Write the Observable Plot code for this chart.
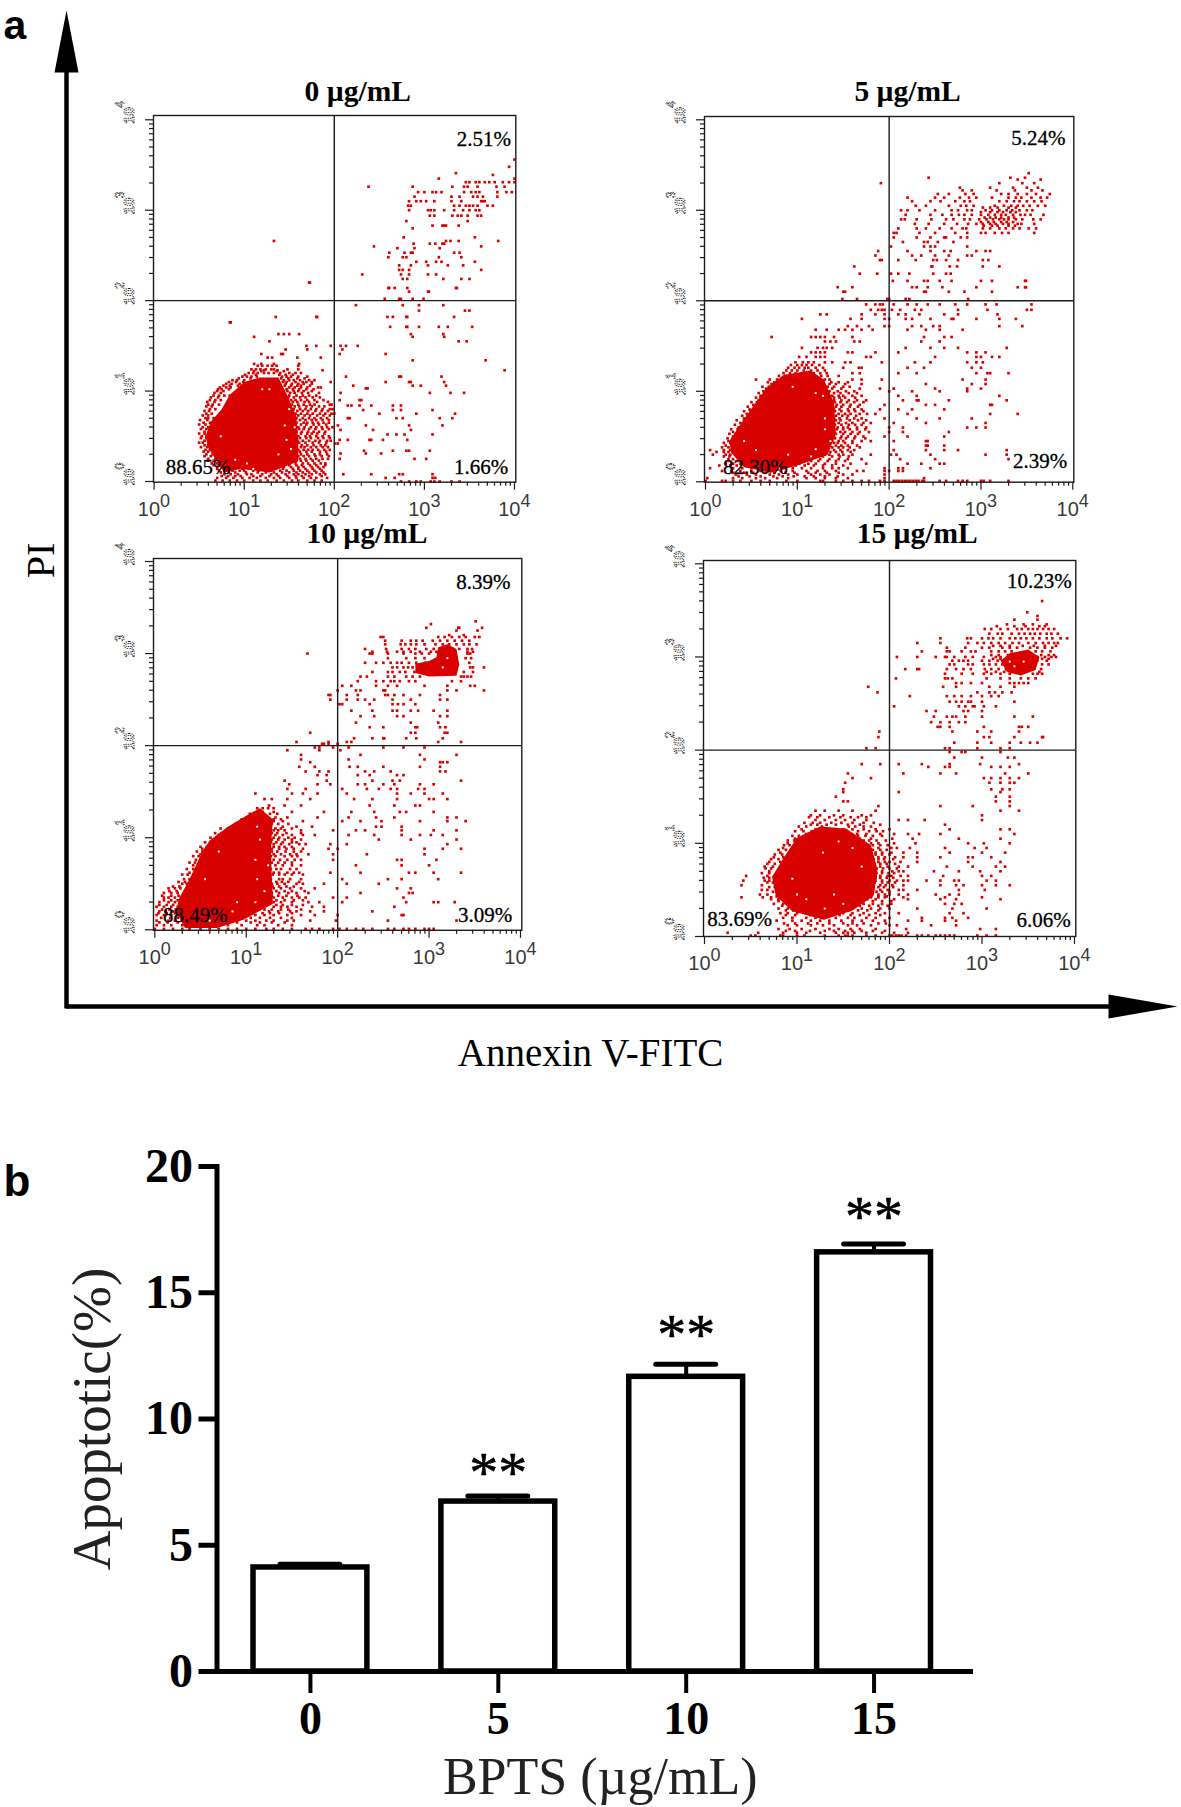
<!DOCTYPE html>
<html><head><meta charset="utf-8">
<script src="https://cdn.jsdelivr.net/npm/d3@7"></script>
<script src="https://cdn.jsdelivr.net/npm/@observablehq/plot@0.6"></script>
<style>html,body{margin:0;background:#fff}#page{position:relative;width:1181px;height:1807px;overflow:hidden}#page svg{position:absolute;overflow:visible;background:transparent}</style>
</head><body><div id="page"></div>
<script>
// FLOW CYTOMETRY VALUES: log10(Annexin V), log10(PI). Rows are [log10 PI, log10 Annexin ...].
const dose0Core=[[.57,.5],[.63,.66],[.75,.8],[.84,.96],[1,1.1],[1.17,1.15],[1.38,1.15],[1.47,.97],[1.58,.72],[1.6,.45],[1.6,.22],[1.28,.1],[.96,.14],[.78,.1],[.66,.28],[.6,.38]];
const dose5Core=[[.26,.45],[.37,.62],[.51,.82],[.66,1.03],[.85,1.18],[1.14,1.23],[1.29,1.13],[1.4,.87],[1.42,.53],[1.33,.3],[1,.18],[.71,.1],[.42,.16],[.28,.32]];
const dose10Core=[[.27,.35],[.38,.55],[.52,.85],[.6,.97],[.8,1.12],[1,1.24],[1.15,1.32],[1.29,1.2],[1.27,.86],[1.29,.28],[.97,.11],[.68,.02],[.33,.02],[.23,.2]];
const dose15Core=[[.73,.64],[.86,.85],[1,1.06],[1.25,1.18],[1.53,1.16],[1.8,.98],[1.87,.72],[1.83,.44],[1.6,.28],[1.29,.18],[.95,.27],[.77,.44]];
const dose10Upper=[[2.85,2.79],[2.85,2.89],[3,2.92],[3.08,2.96],[3.1,3.07],[3.2,3.1],[3.3,3.05],[3.33,2.88],[3.3,2.76],[3,2.75]];
const dose15Upper=[[3.2,2.96],[3.3,3.04],[3.5,3.08],[3.62,3],[3.58,2.86],[3.42,2.8],[3.27,2.84]];
const dose0Holes=[[1.2,1.02],[1.28,1.02],[1.5,.8],[1.45,.62],[1.47,.46],[1.38,.3],[1.03,.2],[.9,.24],[1.52,.36],[.74,.5],[1.56,.6],[1.1,.14]];
const dose5Holes=[[1.2,.98],[.95,1.05],[1.3,.7],[1.3,.58],[1.2,.36],[1.15,.28],[.9,.3],[.42,.45],[.55,.35],[1.28,.95],[.8,.15],[1.36,.45]];
const dose10Holes=[[1.12,1.12],[1.15,.98],[1.1,.76],[1.12,.55],[1.1,.3],[.85,.2],[.55,.55],[.7,.85],[.9,.3],[1.2,.42],[1.24,.7],[.6,.1],[3.15,2.85],[3.2,2.95]];
const dose15Holes=[[1.28,.9],[1.45,1.02],[1.6,.95],[1.7,.75],[1.1,.4],[1,.45],[1.5,.35],[1.3,.3],[.95,.62],[1.4,.45],[3.35,2.9],[3.45,2.95],[3.3,2.95]];
const dose0Rows=[
[3.56,4],[3.48,3.94],[3.41,3.35],[3.39,3.76],[3.35,4,3.16],[3.31,3.46,3.5,3.57,3.61,3.67,3.72,3.78,3.87,3.94,4],[3.26,3.31,3.44,3.48,3.59,3.8,3.89,2.38,2.87],[3.2,2.93,3,3.09,3.13,3.19,3.44,3.52,3.57,3.61,3.81,3.91,3.97],[3.15,2.89,3.3,3.39,3.54,3.59,3.65,3.81],[3.1,2.83,2.91,2.96,3.02,3.11,3.3,3.41,3.63,3.65,3.67],[3.05,2.82,2.85,3.33,3.39,3.46,3.5,3.54,3.59,3.7,3.76],[3,2.83,3.04,3.07,3.11,3.22,3.33,3.43,3.5,3.57,3.61],[2.94,3.06,3.11,3.31,3.37,3.41,3.48,3.59,3.63],[2.88,2.8,3.48],[2.83,3.09,3.2,3.22,3.24,3.38],[2.8,2.87],[2.7,2.77,3.56],[2.66,1.33,3.29,3.24,3.38,3.82],[2.63,2.88,3.06,3.12,3.2,3.22],[2.6,2.44,3.63],[2.58,2.7,2.89,3.17],[2.53,2.61,2.78,2.85,2.87,3.33,3.39],[2.48,2.6,2.76,2.8,3.16,3.41],[2.43,2.91,3.02,3.13,3.19,3.56],[2.39,2.72,2.85,3.04,3.26,3.43],[2.34,2.72,2.76,2.83,3.63],[2.29,2.31,2.74,2.83,3.04,3.13],[2.24,2.76,2.81,3.21,3.41,3.5],[2.2,1.72,1.73],[2.14,2.6,2.61,2.67,2.81,3.35,3.36],[2.1,2.83,3.04,3.05],[2.02,2.56,2.72,2.74,2.87,2.99],[1.95,2.24,2.76,2.94,3.21],[1.89,2.94,3.45,3.5],[1.82,1.35,1.8,1.81,2.59,2.65,2.8,2.81,3.33],[1.76,.84,.85],[1.71,2.62,2.8,2.81,2.94,3.16,3.26,3.53],[1.63,1.38,1.44,1.5,1.61,2.85,3.21],[1.6,1.11,2.87,3.22],[1.55,1.28,3.38,3.47],[1.5,1.69,1.8,1.96,2.07,2.13,2.26],[1.46,1.46,1.7,2.09],[1.41,1.19,1.41,1.43,2.06,2.57],[1.37,1.26,1.31,1.59,1.85],[1.34,2.87,3.68],[1.3,1.11,1.19,1.33,1.61],[1.23,3.89,1.22,1.37,1.87],[1.16,2.13,2.72,2.74,3.19],[1.1,1.96,2.57,2.83,2.85,3.22],[1.06,2.21,2.87,2.96,3.24],[1.03,2.35,2.37],[.98,3.06,3.29,3.44,2.07],[.9,2.06,2.28,2.3],[.84,2.15,2.19,2.28,2.41,2.65,2.74],[.79,2.65,2.74,3.09,2.32],[.75,2.5,2.91,3.34,2],[.7,2.15,2.17,2.69,2.76,3.17,3.31],[.62,2.04,2.35,2.83,3.2],[.57,2.07,2.43,2.85],[.52,2.59,2.69,2.78,3.09],[.46,2.06,2.15,2.39,2.41,2.54,2.81],[.42,2.04,2.01],[.34,2.33,2.65,2.8,2.83,3.06],[.31,2.35,2.52,2.07],[.25,2.06,2.89,3.02],[.08,2.41,2.72,2.76,3.09,2.1],[.04,2.57,2.67,3.09,3.12],[0,2.74,2.83,2.91,2.96,3.07,3.11,3.17,3.3,3.39],
[1.28,1.15,1.2,1.26,1.31,1.36,1.6],[1.24,1.08,1.13,1.18,1.24,1.3,1.33,1.48,1.6],[1.2,1.05,1.1,1.15,1.22,1.27,1.33,1.4,1.5,1.57,1.63],[1.16,.98,1.03,1.08,1.14,1.42,1.47,1.52,1.6,1.7],[1.12,.87,.92,1,1.44,1.5,1.55,1.62,1.72,1.78],[1.08,.8,.86,.95,1.46,1.53,1.6,1.66,1.75],[1.04,.73,.8,.85,1.5,1.56,1.63,1.7,1.82,1.85],[1,.7,.77,1.48,1.55,1.6,1.66,1.75],[.95,.66,.72,.78,.84,1.5,1.58,1.65,1.72,1.8],[.9,.62,.68,.74,1.52,1.57,1.63,1.7,1.78,1.88],[.85,.6,.65,.72,1.53,1.6,1.66,1.73,1.78,1.95,1.97],[.8,.62,.68,1.55,1.62,1.68,1.74,1.8,1.87,1.95,1.98],[.75,.58,.64,1.57,1.63,1.7,1.76,1.84,1.9,1.97],[.7,.57,.6,.66,1.58,1.65,1.72,1.78,1.85,1.92],[.65,.55,.62,1.58,1.66,1.7,1.76,1.82,1.88,1.94],[.6,.54,.6,1.6,1.67,1.74,1.8,1.86,1.92,1.98],[.55,.56,.61,1.58,1.64,1.71,1.77,1.83,1.9],[.5,.53,.58,1.6,1.68,1.73,1.8,1.87,1.94],[.45,.56,.61,1.59,1.65,1.72,1.79,1.84,1.92,1.96],[.4,.56,.6,1.58,1.64,1.7,1.77,1.85,1.9],[.35,.57,.62,1.6,1.66,1.71,1.76,1.82,1.89,1.95],[.3,.58,.65,1.58,1.63,1.7,1.78,1.84,1.92],[.25,.6,.68,1.57,1.62,1.68,1.74,1.8,1.87,1.93],[.2,.64,.7,.76,1.3,1.4,1.5,1.57,1.65,1.71,1.78,1.85,1.9],[.16,.7,.75,.85,.9,1,1.06,1.13,1.2,1.32,1.38,1.44,1.52,1.6,1.66,1.75,1.82,1.88],[.12,.72,.8,.87,.95,1,1.1,1.16,1.25,1.3,1.4,1.47,1.55,1.62,1.7,1.78,1.86],[.08,.78,.85,.93,1.03,1.08,1.2,1.3,1.36,1.46,1.55,1.6,1.68,1.75,1.84,1.9],[.04,.7,.8,.88,.98,1.06,1.14,1.24,1.33,1.4,1.5,1.58,1.66,1.74,1.8,1.92],[.01,.68,.76,.84,.92,1,1.1,1.18,1.26,1.36,1.44,1.53,1.6,1.7,1.78,1.86],
[1.22,1.11,1.19,1.36,1.44],[1.18,1.01,1.13,1.39,1.46,1.54],[1.14,.94,1.07,1.41,1.49,1.59,1.67],[1.1,.83,.91,.99,1.43,1.47,1.57,1.65,1.69,1.75],[1.06,.77,.84,.93,1.45,1.52,1.59,1.63,1.73],[1.02,.71,.75,.83,1.47,1.54,1.61,1.69,1.77],[.98,.67,.74,1.51,1.56,1.64,1.71,1.83],[.93,.63,.71,1.49,1.55,1.62,1.68,1.76,1.84],[.88,.59,.67,1.54,1.59,1.67,1.72,1.81,1.93],[.83,.58,.64,1.56,1.61,1.69,1.75,1.83,1.89],[.78,.56,.61,1.59,1.65,1.71,1.79,1.86,1.93],[.73,.54,.6,1.55,1.6,1.67,1.73,1.81,1.88,1.95],[.68,.51,.59,1.56,1.62,1.68,1.75,1.8,1.87,1.94],[.63,.5,.57,1.57,1.63,1.69,1.77,1.83,1.91],[.58,.52,.58,1.55,1.61,1.66,1.72,1.79,1.87,1.94],[.53,.5,.56,1.56,1.63,1.7,1.75,1.81,1.89],[.48,.52,.58,1.57,1.62,1.69,1.74,1.82,1.88,1.95],[.43,.5,.54,1.56,1.61,1.68,1.76,1.83,1.91],[.38,.52,.59,1.57,1.63,1.67,1.74,1.8,1.87,1.93],[.33,.55,.6,1.56,1.62,1.69,1.75,1.84,1.91],[.28,.56,.63,1.55,1.6,1.66,1.72,1.79,1.86,1.94],[.23,.6,.66,.73,1.35,1.47,1.55,1.63,1.69,1.76,1.83],[.18,.66,.72,.82,.88,.97,1.08,1.16,1.28,1.42,1.5,1.58,1.64,1.73,1.8,1.9],[.14,.7,.78,.9,.98,1.05,1.12,1.22,1.35,1.43,1.54,1.6,1.68,1.76,1.84],[.1,.74,.83,.9,1.02,1.15,1.24,1.33,1.42,1.5,1.58,1.65,1.72,1.8,1.88],[.06,.75,.82,.9,.96,1.1,1.18,1.28,1.38,1.48,1.57,1.64,1.72,1.86]];
const dose5Rows=[
[3.41,3.52],[3.36,2.43,3.32,3.48],[3.34,3.65,3.4],[3.3,1.91,3.2,3.45,3.58],[3.25,2.77,3.1,3.35,3.5,3.62],[3.22,2.8,2.9,3.17,3.37,3.55,3.67],[3.18,2.53,2.65,2.83,2.92,3.22,3.3,3.4,3.5,3.6,3.75],[3.14,2.2,2.5,2.6,2.77,2.87,2.95,3.12,3.3,3.38,3.44,3.55,3.65,3.72],[3.1,2.25,2.45,2.56,2.72,2.82,2.88,3.2,3.28,3.36,3.42,3.5,3.58,3.66],[3.05,2.29,2.4,2.65,2.78,2.84,2.92,3.15,3.25,3.33,3.4,3.46,3.53,3.62,3.7],[3,2.13,2.2,2.33,2.5,2.68,2.75,2.85,2.9,3.05,3.12,3.2,3.28,3.34,3.42,3.5,3.56],[2.95,2.18,2.45,2.58,2.68,2.76,2.82,2.9,3,3.08,3.15,3.22,3.27,3.35,3.43,3.48,3.54,3.68],[2.9,2.13,2.17,2.3,2.46,2.62,2.7,2.82,2.88,2.98,3.06,3.13,3.2,3.25,3.3,3.38,3.45,3.57,3.65],[2.85,2.28,2.43,2.6,2.74,2.86,2.95,3.02,3.1,3.16,3.24,3.3,3.4,3.44,3.58],[2.8,2.1,2.3,2.4,2.55,2.68,2.8,2.84,3.02,3.1,3.2,3.27,3.35,3.42,3.52,3.6],[2.75,2.05,2.08,2.33,2.5,2.72,2.85,3.05,3.15,3,3.23,3.3,3.58],[2.7,2.05,2.3,2.45,2.6,2.62,2.78,2.85],[2.65,2.15,2.38,2.42,2.53,2.7],[2.6,2.02,2.38,2.45,2.5,2.85],[2.55,1.88,2.2,2.45,2.6,2.67,2.95,3.05,3.1],[2.5,1.85,2.25,2.35,2.5,2.65,2.85,2.9],[2.45,1.9,1.92,2.1,2.29,2.48,2.52,2.62,2.75,3.02,3.08],[2.38,1.62,2.46,2.47,2.66,2.74,3.02,3.2],[2.3,1.68,1.87,2.02,2.1,2.22,2.48,2.62,2.67],[2.22,2.04,2.2,2.38,2.42,2.55,2.68,3,3.12,3.48,3.49],[2.15,1.44,1.6,2.25,2.3,2.42,2.58,2.95,3.4,3.48,3.49],[2.1,1.5,1.52,2.38,2.4,2.65,2.82,3.12],[2.02,1.49,1.65,1.98,2,2.18,2.22,2.86],[1.96,1.75,1.85,1.9,1.93,2.05,2.2,2.3,2.42,2.55,2.72,2.85,3.05,3.17,3.55],[1.9,1.8,1.88,1.92,1.95,2.03,2.12,2.28,2.35,2.75,3.07,3.5,3.55],[1.85,1.25,1.32,1.7,1.85,1.95,2.1,2.18,2.33,2.6,2.75,3.18],[1.8,1.05,1.58,1.7,1.95,2,2.18,2.25,2.45,2.68,2.7,2.95,3.2,3.38],[1.72,1.55,1.65,1.78,1.95,2,2.25,2.35,2.48,2.55,3.2,3.45],[1.68,1.2,1.32,1.45,1.52,1.6,1.7,1.82,2.2,2.4,2.55,2.8],[1.6,.72,1.15,1.2,1.25,1.3,1.4,1.6,2.38,2.6,2.68],[1.55,1.3,1.36,1.42,1.62,1.68,2.35,2.55],[1.48,1.05,1.22,1.28,1.32,1.38,2.18,2.45,2.6,2.75,3.28],[1.43,1.15,1.2,1.25,1.3,1.55,1.6,1.85,2.1,2.85,2.95,3.05],[1.38,1.02,1.1,1.2,1.25,1.3,1.75,1.8,2.5,2.95,3,3.12,3.2],[1.32,.98,1.06,1.12,1.18,1.3,1.38,1.52,1.58,1.92,2.28,2.45,2.85,2.95,3.02],[1.26,.9,.97,1.02,1.08,1.12,1.2,1.28,1.5,1.67,1.7,2.2,2.38,2.9,3],[1.2,.85,.92,.98,1.05,1.12,1.18,1.25,1.32,1.6,1.68,2.1,2.3,2.95,3.07,3.1,3.3],[1.13,.55,.7,.78,.85,.95,1.3,1.35,1.6,1.7,1.92,2.8,3.05],[1.08,.72,.78,.88,1.35,1.42,1.52,1.7,2.4,2.9,3.05],[1.03,.66,.72,.77,1.3,1.38,1.48,1.68,1.9,2.05,2.5,2.85,3],[1,.63,.68,1.35,1.44,1.53,1.62,2,2.25,2.55,2.85],[.95,.6,.66,1.38,1.45,1.5,1.6,1.7,2.1,2.3,3.2],[.9,.58,.63,1.4,1.48,1.56,1.65,1.75,2.15,2.3,2.32,2.65,3.28],[.85,.52,.58,1.38,1.43,1.5,1.58,1.68,1.95,2.4,2.5,3.1,3.12],[.8,.48,.55,1.4,1.46,1.55,1.62,1.7,1.9,2.1,2.25,2.6],[.75,.45,.5,1.38,1.45,1.52,1.58,1.68,1.76,1.85,2.2,3.1,3.4],[.7,.42,.47,1.4,1.46,1.54,1.62,1.7,1.95,2.3,2.55,2.9],[.65,.38,.44,1.39,1.45,1.53,1.6,1.72,1.8,2.05,2.4,3.05],[.6,.36,.42,1.38,1.44,1.5,1.55,1.65,1.75,2,2.15,2.85,2.95,3.05],[.55,.3,.38,1.4,1.47,1.52,1.6,1.68,1.78,2,2.15,2.65],[.5,.3,.35,1.4,1.48,1.55,1.63,1.72,1.95,2.2,2.6],[.45,.25,.32,1.38,1.45,1.5,1.6,1.7,1.8,2.05,2.4,2.42],[.4,.22,.3,1.35,1.42,1.48,1.55,1.65,2.4,2.42,2.6],[.35,.05,.2,.27,1.32,1.4,1.47,1.55,1.62,2.05,2.4,2.6,2.75,3.28],[.3,.08,.22,.27,1.3,1.35,1.45,1.5,1.6,1.8,2.02,2.08,2.45,3.05,3.28],[.25,.25,.3,1.08,1.15,1.25,1.35,1.45,1.55,1.7,2.12,2.5,3.3],[.2,.22,.3,.38,.75,.82,.92,1.02,1.12,1.2,1.3,1.42,1.58,1.75,2.2,2.35,2.55,2.6],[.15,.05,.3,.4,.5,.62,.72,.85,.95,1.05,1.15,1.28,1.38,1.45,1.55,1.95,2.1,2.15,2.45],[.12,.18,.28,.38,.5,.6,.7,.82,.95,1.1,1.22,1.3,1.42,1.65,1.72,1.95,2,2.1,2.15],[.08,.33,.45,.55,.7,.8,.9,1,1.15,1.25,1.35,1.5,1.6,1.95],[.04,.02,.3,.4,.55,.65,.78,.9,1.1,1.2,1.3,1.42,1.55,1.95,2.38],[.01,0,.18,.22,.3,.38,.5,.6,.7,.88,1,1.25,1.28,1.42,1.5,1.6,1.7,1.78,1.9,1.95,2.05,2.08,2.11,2.14,2.17,2.2,2.23,2.26,2.29,2.32,2.36,2.38,2.55,2.62,2.75,2.8,2.85,3,3.03,3.1,3.3],
[1.29,.93,1,1.05,1.1,1.16,1.24],[1.23,.88,.94,1,1.07,1.15,1.22,1.3],[1.17,.8,.87,.94,1.26,1.33,1.45],[1.1,.68,.75,.82,1.37,1.45,1.55],[1.05,.62,.69,.8,1.33,1.4,1.5,1.57],[.98,.58,.64,1.4,1.47,1.56,1.65],[.93,.55,.6,1.4,1.46,1.52,1.63],[.88,.5,.56,1.41,1.47,1.54,1.62,1.72],[.83,.46,.53,1.42,1.48,1.57,1.66],[.78,.42,.49,1.41,1.48,1.56,1.63,1.72],[.73,.4,.46,1.42,1.49,1.55,1.64],[.68,.34,.42,1.42,1.47,1.57,1.66,1.75],[.63,.32,.4,1.41,1.48,1.56,1.63,1.7],[.58,.28,.35,1.43,1.5,1.57,1.65,1.74],[.53,.26,.33,1.42,1.5,1.58,1.66],[.48,.24,.3,1.41,1.47,1.53,1.62,1.74],[.43,.2,.27,1.4,1.44,1.52,1.6],[.38,.18,.25,1.38,1.45,1.5,1.57,1.68],[.33,.12,.2,.25,1.36,1.42,1.49,1.58],[.28,.2,.26,1.2,1.28,1.38,1.46,1.56],[.23,.25,.35,1.05,1.15,1.23,1.33,1.42,1.52],[.18,.15,.27,.34,.68,.78,.88,.98,1.08,1.18,1.28,1.38,1.5],[.1,.3,.42,.52,.65,.75,.87,.97,1.12,1.2,1.32,1.45],[.06,.36,.48,.6,.74,.84,.96,1.08,1.18,1.3,1.44],
[3.03,3.02,3.1,3.18,3.3,3.38],[2.98,3,3.1,3.18,3.24,3.32,3.38],[2.92,3.04,3.1,3.16,3.22,3.3,3.36],[2.87,3,3.08,3.14,3.22,3.28,3.35],[2.83,3.03,3.12,3.18,3.3,3.37]];
const dose10Rows=[
[3.35,3.51],[3.32,3.02],[3.28,3.58,2.97,3.32,3.33],[3.25,3.53,3.3],[3.2,3.22,3.38],[3.18,2.47,2.5,3.1,3.17,3.25,3.33,3.4,3.5,3.55],[3.14,2.52,2.7,2.8,2.86,2.93,3.04,3.12,3.2,3.28,3.36,3.44],[3.1,2.52,2.69,2.74,2.8,2.86,2.95,3.07,3.15,3.22,3.3,3.38,3.44,3.52],[3.05,2.3,2.53,2.7,2.78,2.85,2.97,3.05,3.12,3.18,3.26,3.33,3.42,3.47],[3.02,2.38,2.54,2.65,2.72,2.8,2.9,3.02,3.08,3.16,3.23,3.42,3.48],[3,1.67,2.35,2.38,2.55,2.72,2.85,2.92,3,3.1,3.15,3.24,3.42,3.45],[2.95,2.55,2.75,2.85,2.95,3.1,3.15,3.4,3.46],[2.9,2.3,2.42,2.5,2.58,2.65,2.7,2.78,2.86,2.96,3.44],[2.85,2.6,2.65,2.72,2.77,2.82,2.95,3.45,3.48,3.6],[2.8,2.38,2.55,2.6,2.68,2.74,2.84,2.9,3.48,3.38],[2.75,2.25,2.32,2.55,2.62,2.75,2.82,2.9,3.35,3.38,3.42,3.46],[2.7,2.22,2.42,2.5,2.58,2.62,2.68,2.78,2.85,3.25,3.35],[2.65,2.05,2.15,2.42,2.55,2.65,2.95,3.2,3.45,3.5],[2.6,2,2.2,2.25,2.5,2.52,3.2,3.3,3.6],[2.55,1.9,1.92,2.1,2.22,2.52,2.55,2.62,2.72,2.9,3.12],[2.5,1.92,2.1,2.22,2.3,2.4,2.6,2.8,3.12,3.2],[2.45,2.02,2.05,2.35,2.6,2.66,2.72,2.85],[2.38,2.15,2.38,2.6,2.65,2.8,2.88,3.05,3.2],[2.32,2.25,2.4,2.65,2.72,3.12,3.2],[2.25,2.2,2.8,3.1],[2.2,2.35,2.5,2.85,2.87,3.12,3.18],[2.14,1.7,2.8,2.85,3.17,3.2],[2.08,2.18,2.38,2.5,2.51,2.75,2.86,3.15],[2.04,1.55,1.9,2.1,2.15,3.1,3.35],[1.98,2.5,2.72,2.95],[2.02,1.83,1.85,1.9,2],[1.98,1.75,1.8,1.95,2.12],[1.95,1.45,1.8,2.03],[1.9,1.6,2.25,2.9,3.3],[1.85,1.6,2.12,2.95],[1.82,1.7,3.12,3.15,3.2],[1.77,1.58,1.75,2.13,2.22,2.5,2.9,3.12],[1.72,1.65,1.8,1.9,2.3,2.4,2.58,3.12,3.18],[1.68,1.78,1.88,2.22,2.35,2.65,2.72],[1.62,1.42,1.88,2.38,2.6,2.68,3.35],[1.58,1.47,1.78,1.92,2.22,2.3,2.5,2.62,2.9,3.05],[1.53,1.45,1.65,2.05,2.32,2.45,2.58,2.65,2.88,2.95],[1.48,1.1,1.5,1.62,1.78,2.1,2.65,2.8,2.95,3.15],[1.42,1.2,1.28,1.45,1.7,2.18,2.38,2.65,3,3.05,3.2],[1.35,1.25,1.42,1.6,2.35,2.62,2.85,2.9],[1.28,1.18,1.3,1.5,1.85,2.15,2.4,2.68,2.75,3.05],[1.22,1.15,1.32,1.45,1.78,2.12,2.42,2.62,3.2,3.3],[1.18,1.28,1.3,1.4,1.62,2.05,2.25,2.48,2.9,3.2,3.4],[1.12,.85,1,1.05,1.4,1.55,1.72,2.42,2.48,2.7],[1.08,.78,.82,1.3,1.35,1.42,1.6,1.95,2.2,2.3,2.7,3.05,3.3],[1.03,.7,.75,1.32,1.4,1.5,1.62,1.75,2.12,2.4,2.7,2.9,3.02,3.15],[.98,.65,.7,1.28,1.35,1.42,1.5,1.6,2.45,2.8,3.3],[.93,.62,.68,1.3,1.38,1.47,1.58,1.65,1.92,2.1,3.2],[.88,.52,.6,1.28,1.36,1.44,1.52,1.62,1.9,2,2.95,3.15,3.35],[.82,.5,.56,1.3,1.38,1.48,1.55,1.68,1.95,2.32,2.95],[.76,.45,.52,1.3,1.37,1.45,1.53,1.6,1.95,2.65,2.7,3.08],[.7,.42,.48,1.32,1.4,1.5,1.6,2.2,2.7,3],[.62,.38,.44,1.3,1.36,1.45,1.52,1.58,1.92,2.25,2.78,2.85,3.05,3.35],[.55,.32,.38,1.27,1.36,1.4,1.48,1.6,2.05,2.55,2.7,3.1],[.5,.3,.35,1.28,1.34,1.42,1.55,1.62,1.85,2.1,2.45],[.45,.15,.22,.28,1.3,1.38,1.48,1.6,1.75,2.65,2.8],[.4,.1,.18,.25,1.28,1.36,1.46,1.55,1.68,2.25,2.78,2.82],[.35,.1,.15,.22,.3,1.3,1.4,1.5,1.58,1.65,1.95,2.1,2.72],[.3,.05,.15,.22,1.3,1.38,1.5,1.68,1.8,2.05,2.75,3.05,3.1,3.28],[.25,.02,.1,.18,.25,1.3,1.38,1.45,1.55,1.72,1.85,2.62],[.2,.05,.12,.2,1.25,1.35,1.48,1.55,1.7,1.85,2.38],[.16,.02,.1,.18,.25,1,1.1,1.2,1.3,1.45,1.6,1.75,2,2.7,2.72],[.1,.02,.15,.22,.3,.78,.88,1,1.1,1.22,1.3,1.45,1.52,1.7,1.98,2.55,3.3],[.05,.02,.1,.18,.3,.45,.55,.7,.8,.95,1.12,1.2,1.35,1.5],[.01,0,.1,.2,.3,.38,.5,.6,.7,.8,.9,1,1.1,1.22,1.3,1.4,1.5,1.65,1.72,1.8,1.95,2.02,2.1,2.2,2.28,2.38,2.55,2.62,2.72,2.78,2.85,2.95,3,3.05],
[1.32,1.12,1.18,1.24,1.3],[1.26,1.04,1.1,1.17,1.26,1.34],[1.2,.95,1.02,1.08,1.3,1.38],[1.15,.88,.96,1.28,1.35,1.46],[1.1,.72,.8,.9,1.32,1.38,1.5],[1.05,.66,.73,.8,1.28,1.34,1.44,1.6],[1,.61,.68,1.3,1.36,1.46,1.53],[.95,.55,.62,1.27,1.33,1.4,1.5,1.55],[.9,.5,.57,1.3,1.36,1.42,1.5],[.85,.46,.52,1.28,1.34,1.43,1.52,1.6],[.8,.42,.48,1.27,1.32,1.42,1.5,1.56],[.73,.38,.44,1.28,1.35,1.42,1.5],[.66,.35,.42,1.27,1.33,1.38,1.48,1.55],[.6,.3,.36,1.29,1.36,1.42,1.5,1.62],[.52,.26,.33,1.26,1.33,1.39,1.46,1.58],[.47,.2,.27,1.29,1.36,1.44,1.52],[.42,.16,.24,1.27,1.33,1.42,1.5,1.64],[.37,.08,.18,.26,1.28,1.35,1.44,1.56],[.32,.1,.18,.25,1.27,1.33,1.42,1.52,1.62],[.27,.05,.13,.2,1.22,1.33,1.4,1.5,1.62],[.22,.08,.16,.23,1.2,1.28,1.38,1.46,1.6],[.18,.04,.13,.22,1,1.08,1.18,1.26,1.36,1.5],[.13,.07,.17,.25,.85,.95,1.05,1.15,1.26,1.38,1.5],[.08,.05,.14,.25,.38,.5,.62,.75,.9,1.05,1.15,1.28,1.42]];
const dose15Rows=[
[3.6,3.65],[3.48,3.49],[3.44,3.6],[3.4,3.6,3.35],[3.35,3.27,3.45,3.55,3.7],[3.33,3.16,3.35,3.47,3.62,3.68],[3.3,3.03,3.1,3.2,3.28,3.38,3.43,3.5,3.55,3.6,3.66,3.72,3.78],[3.25,3.08,3.17,3.22,3.32,3.4,3.46,3.52,3.57,3.63,3.7,3.75,3.82],[3.2,2.55,2.84,2.88,3,3.07,3.12,3.2,3.3,3.36,3.42,3.48,3.55,3.62,3.7,3.76,3.85,3.92],[3.15,2.3,2.55,2.85,2.95,3.02,3.1,3.18,3.25,3.33,3.4,3.5,3.58,3.66,3.72,3.78,3.82],[3.1,2.62,2.82,3,3.08,3.22,3.3,3.38,3.52,3.6,3.68,3.76],[3.06,2.35,2.62,2.65,2.78,2.88,2.93,3.1,3.18,3.25,3.32,3.58,3.65,3.74],[3,2.08,2.3,2.5,2.6,2.62,2.7,2.82,2.9,3.02,3.15,3.2,3.3,3.6,3.68,3.75,3.8],[2.96,2.68,2.75,2.8,2.85,3,3.08,3.17,3.25,3.6,3.7],[2.92,2.65,2.7,2.85,2.9,3.02,3.08,3.15,3.22,3.58,3.65,3.72],[2.87,2.17,2.3,2.32,2.62,2.72,2.8,2.88,3.03,3.1,3.18,3.26,3.55,3.64],[2.82,2.6,2.78,2.9,3.02,3.1,3.2,3.3,3.55,3.6,3.65],[2.77,2.07,2.6,2.63,2.68,3.05,3.2,3.3,3.42,3.5,3.58],[2.72,2.72,2.78,2.88,3,3.3,3.35,3.4,3.45,3.5],[2.68,1.77,2.58,2.72,3.08,3.2,3.35],[2.62,1.87,2.95,3.08,3.14,3.22,3.32],[2.58,2.22,2.62,2.7,2.78,2.88,3,3.1,3.18],[2.52,2.65,2.72,2.78,2.85,2.88,3,3.35],[2.47,2.05,2.75,2.82,2.9,2.92,3.02,3.15],[2.42,2.4,2.5,2.8,2.85,3],[2.36,2.48,2.62,2.68,2.72,2.82,3,3.35,3.55],[2.3,2.45,2.55,2.65,2.75,2.82],[2.25,2.52,2.55,2.65,3.02,3.4,3.43,3.5],[2.2,1.89,2.68,2.95,3.1,3.4],[2.14,1.88,3.02,3.08,3.35,3.65,3.66],[2.08,2.7,2.95,3.1,3.3,3.42,3.52,3.6],[2.02,1.75,1.85,2.6,2.65,2.95,3.2,3.3],[1.98,2.65,2.78,2.82,3.2],[1.92,2.7,3,3.28,3.35],[1.85,1.7,1.9,2.1,2.35,2.65,2.98,3.4],[1.82,2.42,2.6,2.65,3.1,3.2,3.3],[1.75,1.55,2.15,2.55,2.72,3.25,3.5],[1.7,1.6,1.8,3.02,3.1,3.2,3.3,3.4],[1.65,1.52,3.08,3.2,3.3,3.35],[1.58,1.5,3.1,3.22,3.3],[1.55,1.5,2.1,3.2],[1.5,1.42,3.3,3.15],[1.45,1.5,1.55,3.15,3.3],[1.4,1.88,2.55,2.9,3.3],[1.35,1.2,1.3,1.45,1.6,1.85,3.2,3.4],[1.3,1.15,1.25,1.4,1.5,1.7,1.8,3],[1.25,1.2,1.3,1.42,1.52,1.62,1.75,2.1,2.2,2.38,3],[1.2,1.15,1.22,1.32,1.42,1.55,1.68,1.9,2.6],[1.15,1.05,1.2,1.3,1.38,1.5,1.6,1.72,1.85,2,2.65,3.2,3.3],[1.1,1.1,1.18,1.25,1.33,1.42,1.55,1.65,1.75,1.9,2.05,2.2,2.32,2.55,3.35],[1.05,.98,1.03,1.1,1.52,1.6,1.68,1.8,2.03,2.25,2.75,3.2],[1,.9,1,1.05,1.6,1.7,1.8,1.88,2.05,2.28,2.85,3.02,3.3],[.95,.85,.95,1.62,1.7,1.78,1.88,2.02,2.08,2.22,2.6,2.92,3.05],[.9,.82,.92,1.78,1.85,1.92,2.02,2.15,2.3,2.65,3,3.25],[.85,.75,.85,1.8,1.88,1.95,2.06,2.15,2.3,2.55,2.85,2.9,3.1],[.8,.7,.82,1.82,1.88,1.95,2,2.12,2.3,2.85,3.2],[.75,.65,.74,1.82,1.9,1.98,2.1,2.2,2.62,2.9,3.15,3.25],[.7,.7,1.85,1.92,2.03,2.1,2.15,2.48,2.75,2.98,3.2],[.65,.45,.68,1.85,1.9,1.98,2.02,2.12,2.2,2.58,3,3.1],[.6,.42,.65,.7,1.85,1.92,2,2.08,2.15,2.2,2.4,2.55,2.7,2.75,3.05,3.15],[.55,.4,.62,1.82,1.9,1.96,2.03,2.15,2.55,2.72,2.8,3,3.15,3.3],[.5,.62,.68,1.82,1.9,1.98,2.1,2.15,2.3,2.75,3.03],[.45,.6,.68,1.8,1.88,1.95,2,2.1,2.2,2.5,2.65,2.75],[.42,.4,.63,.72,1.8,1.88,1.95,2.15,2.6,3],[.4,.72,.8,1.6,1.68,1.76,1.85,2.05,2.2,2.55,2.72,3.2],[.35,.75,.85,.95,1.5,1.58,1.65,1.72,1.82,1.92,2.02,2.6,2.7,2.78],[.3,.8,.9,1.2,1.32,1.42,1.52,1.6,1.7,1.8,1.9,2,2.3,2.68,3.05],[.25,.82,.9,1,1.1,1.25,1.38,1.5,1.6,1.72,1.85,1.95,2.1,2.65,2.8],[.2,.85,.95,1.1,1.2,1.3,1.42,1.55,1.62,1.75,1.85,2,2.35,2.6,2.68,2.85],[.17,.78,.95,1.05,1.15,1.25,1.35,1.48,1.6,1.7,1.82,1.95,2.2,2.35,2.6,2.72],[.12,.9,1,1.15,1.28,1.4,1.55,1.65,1.8,2,2.08,2.45,2.72],[.08,.8,.92,1.05,1.2,1.35,1.45,1.58,1.68,1.85,2.18,2.98,3.15],[.04,.25,.58,.85,1,1.1,1.25,1.42,1.5,1.55,1.62,1.75,1.92,2.05,2.2],[.01,.5,.55,.82,.85,1,1.08,1.3,1.45,1.52,1.55,1.6,1.75,1.85,2,2.03,2.07,2.1,2.13,2.18,2.3,2.35,2.42,2.5,2.55,2.6,2.65,2.7,2.95,3.05,3.15],
[1.28,1.13,1.22,1.35,1.47,1.58,1.66,1.75],[1.22,1.08,1.17,1.25,1.37,1.48,1.6,1.72,1.83],[1.18,1.02,1.1,1.27,1.56,1.63,1.72,1.8],[1.13,.98,1.07,1.16,1.54,1.66,1.78,1.86,1.93],[1.08,.95,1.02,1.6,1.66,1.74,1.82,1.92],[1.03,.9,.97,1.64,1.72,1.78,1.86,1.96],[.98,.86,.92,1.66,1.74,1.82,1.9,1.98],[.93,.8,.88,1.76,1.82,1.9,1.97],[.88,.76,.84,1.8,1.85,1.92,2],[.83,.72,.8,1.83,1.88,1.94,2.04],[.78,.68,.76,1.84,1.9,1.97,2.06],[.73,.66,.72,1.86,1.93,2,2.08],[.68,.62,.7,1.86,1.92,1.99,2.05],[.63,.64,.7,1.85,1.9,1.97,2.04],[.58,.68,.74,1.84,1.92,1.98,2.06],[.53,.7,.76,1.83,1.88,1.94,2.04],[.48,.74,.8,1.8,1.86,1.92,2],[.43,.78,.84,1.74,1.8,1.88,1.97],[.38,.8,.88,1.64,1.72,1.82,1.92,2.02],[.33,.84,.92,1.38,1.48,1.58,1.68,1.78,1.88,1.98],[.28,.88,.96,1.08,1.22,1.36,1.48,1.56,1.66,1.76,1.88],[.23,.88,.98,1.14,1.22,1.34,1.46,1.58,1.68,1.78,1.9],[.14,.86,.98,1.12,1.22,1.35,1.5,1.6,1.72,1.88,1.96],[.06,.88,.98,1.14,1.3,1.4,1.52,1.6,1.7,1.82,1.95],
[3.12,3.12,3.2,3.3,3.44,3.56,3.68,3.8],[3.02,3.1,3.18,3.28,3.64,3.72,3.78],[2.98,3.12,3.2,3.65,3.72],[2.84,3.05,3.15,3.24,3.32,3.62]];

const doseTitles=["0 µg/mL","5 µg/mL","10 µg/mL","15 µg/mL"];
const upperRight=["2.51%","5.24%","8.39%","10.23%"];
const lowerLeft=["88.65%","82.30%","88.49%","83.69%"];
const lowerRight=["1.66%","2.39%","3.09%","6.06%"];
const decades=[1,10,100,1000,10000];
const decadeExponents=["0","1","2","3","4"];
const minorTicks=[1,10,100,1000].flatMap(d=>[2,3,4,5,6,7,8,9].map(m=>m*d));
// BAR CHART VALUES
const barDoses=["0","5","10","15"];
const apoptotic=[4.12,6.73,11.67,16.6];
const apoptoticUpper=[4.25,6.95,12.17,16.93];
const starDoses=["5","10","15"];
const starLevels=[7.85,13.3,18];
const yBarTicks=[0,5,10,15,20];

// LAYOUT (page pixels)
const layouts=[
 {L:152.7,R:515,T:115,B:481.7,x0:153.3,x4:513.7,y0:481,y4:119.3,titleX:2.26,titleDy:-19,ur:[3.96,3.71],ll:[.13,.085],lr:[3.93,.085]},
 {L:704,R:1073.3,T:116,B:481.7,x0:705,x4:1072.3,y0:481.3,y4:119.3,titleX:2.2,titleDy:-19,ur:[3.92,3.72],ll:[.19,.085],lr:[3.94,.15]},
 {L:153,R:521.3,T:557.7,B:929.5,x0:154.3,x4:520,y0:929,y4:560.7,titleX:2.32,titleDy:-18,ur:[3.89,3.7],ll:[.09,.09],lr:[3.91,.09]},
 {L:702.7,R:1075,T:560,B:936,x0:703.7,x4:1073.7,y0:936,y4:563.3,titleX:2.3,titleDy:-21,ur:[3.97,3.74],ll:[.03,.11],lr:[3.96,.1]}
];
const RED="#d90000", INK="#1c1c1c", SERIF="'Liberation Serif',serif", SANS="'Liberation Sans',sans-serif";
const page=document.getElementById("page");
const place=(svg,x,y)=>{svg.style.left=x+"px";svg.style.top=y+"px";page.appendChild(svg);};
const pow=e=>10**e;
const expand=rows=>rows.flatMap(([y,...xs])=>xs.map(x=>({x:pow(x),y:pow(y)})));
const poly=pts=>pts.map(([x,y])=>({x:pow(x),y:pow(y)}));

function flow(i,rows,core,holes,upper){
 const a=layouts[i],m=60,ox=a.L-m,oy=a.T-m;
 const lab=(t,[x,y],anchor)=>Plot.text([t],{x:()=>pow(x),y:()=>pow(y),textAnchor:anchor,lineAnchor:"bottom",fontFamily:SERIF,fontSize:21,fill:"#000",stroke:"#000",strokeWidth:.3});
 const svg=Plot.plot({width:a.R-a.L+2*m,height:a.B-a.T+2*m,marginLeft:m,marginRight:m,marginTop:m,marginBottom:m,
  x:{type:"log",domain:[1,1e4],range:[a.x0-ox,a.x4-ox]},y:{type:"log",domain:[1,1e4],range:[a.y0-oy,a.y4-oy]},
  style:{background:"transparent"},
  marks:[
   upper?Plot.line(poly(upper),{x:"x",y:"y",fill:RED,stroke:"none"}):null,
   Plot.line(poly(core),{x:"x",y:"y",fill:RED,stroke:"none"}),
   Plot.dot(expand(rows),{x:"x",y:"y",symbol:"square",r:1.5,fill:RED,stroke:"none"}),
   Plot.dot(poly(holes),{x:"x",y:"y",symbol:"square",r:1.1,fill:"#fff",stroke:"none"}),
   Plot.ruleX([100],{stroke:INK,strokeWidth:1.4}),
   Plot.ruleY([100],{stroke:INK,strokeWidth:1.4}),
   Plot.frame({stroke:INK,strokeWidth:1.4}),
   Plot.axisX({ticks:minorTicks,tickSize:4,text:null,label:null,stroke:INK,strokeWidth:1.2,anchor:"bottom"}),
   Plot.axisX({ticks:decades,tickSize:8,text:null,label:null,stroke:INK,strokeWidth:1.2,anchor:"bottom"}),
   Plot.axisY({ticks:minorTicks,tickSize:4,text:null,label:null,stroke:INK,strokeWidth:1.2,anchor:"left"}),
   Plot.axisY({ticks:decades,tickSize:8,text:null,label:null,stroke:INK,strokeWidth:1.2,anchor:"left"}),
   Plot.text(decades,{x:d=>d,frameAnchor:"bottom",text:()=>"10",dy:34,dx:6,textAnchor:"end",fontFamily:SANS,fontSize:20,fill:"#3a3a3a"}),
   Plot.text(decades,{x:d=>d,frameAnchor:"bottom",text:(d,j)=>decadeExponents[j],dy:25,dx:6,textAnchor:"start",fontFamily:SANS,fontSize:18,fill:"#3a3a3a"}),
   Plot.text(decades,{y:d=>d,frameAnchor:"left",text:()=>"10",dx:-24,dy:4,rotate:-90,fontFamily:SANS,fontSize:15,fontWeight:"bold",fill:"none",stroke:INK,strokeWidth:1,strokeDasharray:"1.3,1.1"}),
   Plot.text(decades,{y:d=>d,frameAnchor:"left",text:(d,j)=>decadeExponents[j],dx:-33,dy:-12,rotate:-90,fontFamily:SANS,fontSize:12,fill:"none",stroke:INK,strokeWidth:.9,strokeDasharray:"1.2,1.1"}),
   Plot.text([doseTitles[i]],{x:()=>pow(a.titleX),y:()=>1e4,dy:a.titleDy,lineAnchor:"bottom",fontFamily:SERIF,fontWeight:"bold",fontSize:29.5,fill:"#000"}),
   lab(upperRight[i],a.ur,"end"),lab(lowerLeft[i],a.ll,"start"),lab(lowerRight[i],a.lr,"end")
  ]});
 place(svg,ox,oy);
}

// page-level annotations
const piShaft=[{x:66,y:70},{x:66,y:1008}], annexinShaft=[{x:66,y:1006},{x:1110,y:1006}];
const piHead=[{x:66,y:10},{x:54,y:72},{x:78,y:72}], annexinHead=[{x:1177,y:1006},{x:1108,y:994},{x:1108,y:1018}];
place(Plot.plot({width:1181,height:1807,margin:0,x:{domain:[0,1181],range:[0,1181]},y:{domain:[0,1807],range:[0,1807]},axis:null,style:{background:"transparent"},
 marks:[
  Plot.line(piShaft,{x:"x",y:"y",stroke:"#000",strokeWidth:4.5,strokeLinecap:"butt"}),
  Plot.line(annexinShaft,{x:"x",y:"y",stroke:"#000",strokeWidth:4.5,strokeLinecap:"butt"}),
  Plot.line(piHead,{x:"x",y:"y",fill:"#000",stroke:"none"}),
  Plot.line(annexinHead,{x:"x",y:"y",fill:"#000",stroke:"none"}),
  Plot.text(["a"],{x:()=>3,y:()=>38,textAnchor:"start",lineAnchor:"bottom",fontFamily:SANS,fontWeight:"bold",fontSize:41,fill:"#000"}),
  Plot.text(["b"],{x:()=>3,y:()=>1195,textAnchor:"start",lineAnchor:"bottom",fontFamily:SANS,fontWeight:"bold",fontSize:44,fill:"#000"}),
  Plot.text(["PI"],{x:()=>41,y:()=>560,rotate:-90,fontFamily:SERIF,fontSize:40,fill:"#000"}),
  Plot.text(["Annexin V-FITC"],{x:()=>590,y:()=>1053,fontFamily:SERIF,fontSize:39,fill:"#000"})
 ]}),0,0);

flow(0,dose0Rows,dose0Core,dose0Holes);
flow(1,dose5Rows,dose5Core,dose5Holes);
flow(2,dose10Rows,dose10Core,dose10Holes,dose10Upper);
flow(3,dose15Rows,dose15Core,dose15Holes,dose15Upper);

// bar chart
const barRows=barDoses.map((d,i)=>({dose:d,mean:apoptotic[i],upper:apoptoticUpper[i]}));
const starRows=starDoses.map((d,i)=>({dose:d,y:starLevels[i]}));
place(Plot.plot({width:1181,height:667,marginLeft:216.5,marginRight:211,marginTop:26,marginBottom:136,
 x:{type:"band",domain:barDoses,paddingInner:.394,paddingOuter:.197,round:false,range:[216,967.5]},
 y:{domain:[0,20]},style:{background:"transparent"},
 marks:[
  Plot.ruleX(barRows,{x:"dose",y1:"mean",y2:"upper",stroke:"#000",strokeWidth:4}),
  Plot.tickY(barRows,{x:"dose",y:"upper",insetLeft:27,insetRight:27,stroke:"#000",strokeWidth:5,strokeLinecap:"round"}),
  Plot.barY(barRows,{x:"dose",y:"mean",fill:"#fff",stroke:"#000",strokeWidth:5.5}),
  Plot.frame({anchor:"left",stroke:"#000",strokeWidth:5}),
  Plot.frame({anchor:"bottom",stroke:"#000",strokeWidth:5}),
  Plot.axisY({ticks:yBarTicks,tickSize:18,strokeWidth:5,stroke:"#000",tickPadding:6,label:null,fontFamily:SERIF,fontWeight:"bold",fontSize:48,fill:"#000"}),
  Plot.axisX({tickSize:22,strokeWidth:4,stroke:"#000",tickPadding:8,label:null,fontFamily:SERIF,fontWeight:"bold",fontSize:46,fill:"#000"}),
  Plot.text(starRows,{x:"dose",y:"y",text:()=>"**",fontFamily:SERIF,fontSize:58,stroke:"#000",strokeWidth:.6,fill:"#000"}),
  Plot.text(["Apoptotic(%)"],{frameAnchor:"left",textAnchor:"middle",dx:-125,rotate:-90,fontFamily:SERIF,fontSize:55,fill:"#222"}),
  Plot.text(["BPTS (µg/mL)"],{x:()=>"10",frameAnchor:"bottom",dy:122,dx:-86,fontFamily:SERIF,fontSize:52,fill:"#222"})
 ]}),0,1140);
</script></body></html>
